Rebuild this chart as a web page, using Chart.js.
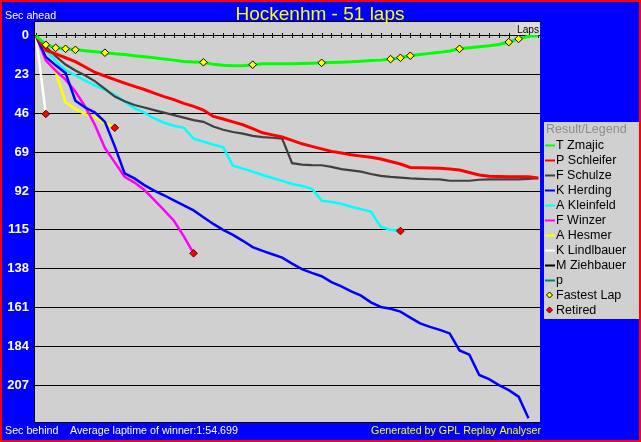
<!DOCTYPE html>
<html>
<head>
<meta charset="utf-8">
<title>Hockenhm - 51 laps</title>
<script src="https://cdn.jsdelivr.net/npm/chart.js@4.4.1/dist/chart.umd.min.js"></script>
<style>
html,body{margin:0;padding:0;background:#0000ff;overflow:hidden;}
#wrap{width:641px;height:442px;}
</style>
</head>
<body>
<div id="wrap"><canvas id="chart" width="641" height="442"></canvas></div>
<script>
// ---- data (seconds behind the winner's average lap pace, per lap, lap 0 first) ----
const chartTitle = "Hockenhm - 51 laps";
const drivers = ["T Zmajic","P Schleifer","F Schulze","K Herding","A Kleinfeld","F Winzer","A Hesmer","K Lindlbauer","M Ziehbauer","p"];
const driverColors = ["#00ff00","#ff0000","#404040","#0000ff","#00ffff","#ff00ff","#ffff00","#ffffff","#000000","#008080"];
const driverWidths = [3,3,2.2,2.5,2.5,2.5,2.5,2.5,2.5,2.5];

const zmajic = [0,5.3,7.1,7.7,8.3,8.9,9.5,10,10.6,11, 11.8,12.4,13,13.8,14.4,15.2,15.5,15.7,16.9,17.5, 17.7,17.7,17.1,16.6,16.6,16.6,16.6,16.4,16.2,16, 15.8,15.6,15.4,15,14.6,14.4,13.8,13,11.8,11, 10.4,9.8,9,7.7,7.1,6.5,5.9,5.1,3.7,1.8, 0.3,0];
const schleifer = [0,8.5,10.7,13,15.3,18.5,21.7,23.8,26,28, 30,31.8,34,36,37.8,40,41.8,44,47.8,49.3, 51,52.7,55,57.5,58.7,60,62,64,65.5,67, 68.5,69.5,70.5,71.3,72,73,74.5,76,78,78.2, 78.3,78.5,79,79.5,81,82.5,83.2,83.4,83.5,83.5, 83.6,84.2];
const schulze = [0,6.5,12,17,20.5,23.5,27,31.5,36,38.8, 41,42.5,44,45.5,47,48.5,50,51,53.8,55.7, 57,58,59.3,60,60.4,61,75.5,76.3,76.6,76.7, 77.7,79,79.8,80.5,81.9,83,83.6,84,84.5,84.8, 85,85.1,85.9,85.9,85.9,85.3,85.1,85.1,85.1,85.1, 84.8,84.3];
const herding = [0,12.5,17.5,22,38.5,42.5,45.5,51,65.5,81.5, 84.5,88.5,91.7,94.5,97.5,100.5,103.5,107.5,111.5,115, 118,121.5,125.2,127.5,129.5,131.5,135,138.3,140.5,142.5, 146,148.5,151.5,154,158,160.7,161.8,163.5,167,170.4, 172.5,174.3,176.4,186.5,189,201,203.5,207,210,213.9, 226.7];
const kleinfeld = [0,8.5,15,20.5,23.5,26.5,29.5,32,35,39, 43,45.5,49,51.5,53.3,54.5,61,62.7,64.5,66, 77,78.7,80.5,82.5,84.3,86,87.8,89,90.5,97.7, 98.5,99.5,101.3,102.7,104.2,113.2,115,115.7];
const winzer = [0,14.5,20.6,26,33,42,53,66.5,75,83.5,87,91.4,97.3,103.3,109.6,118.7,128.9];
const hesmer = [0,11.8,21.3,39.4,43.4,46.4,48.7,51.5,54.5];
const lindlbauer = [0,46.3];
const ziehbauer = [];
const pDriver = [];
const seriesList = [zmajic, schleifer, schulze, herding, kleinfeld, winzer, hesmer, lindlbauer, ziehbauer, pDriver];

const fastestLaps = [1,2,3,4,7,17,22,29,36,37,38,43,48,49];   // laps where the leader set fastest laps
const retiredSeries = [lindlbauer, hesmer, winzer, kleinfeld]; // these end with a retirement
const yTickValues = [0,23,46,69,92,115,138,161,184,207];
const totalLaps = 51;
const subtitleLeft = "Average laptime of winner:1:54.699";
const creditText = "Generated by GPL Replay Analyser";

// ---- datasets ----
const toPoints = arr => arr.map((v, i) => ({x: i, y: v}));
const lineSets = drivers.map((name, i) => ({
  type: 'line',
  label: name,
  data: toPoints(seriesList[i]),
  borderColor: driverColors[i],
  backgroundColor: driverColors[i],
  borderWidth: driverWidths[i],
  pointRadius: 0,
  tension: 0,
  fill: false,
  order: 1
}));
const fastestSet = {
  type: 'scatter', label: 'Fastest Lap',
  data: fastestLaps.map(l => ({x: l, y: zmajic[l]})),
  pointStyle: 'rectRot', pointRadius: 3.8, borderWidth: 1,
  backgroundColor: '#ffff00', borderColor: '#000000', order: -1
};
const retiredSet = {
  type: 'scatter', label: 'Retired',
  data: retiredSeries.map(s => ({x: s.length - 1, y: s[s.length - 1]})),
  pointStyle: 'rectRot', pointRadius: 3.8, borderWidth: 1,
  backgroundColor: '#ff0000', borderColor: '#500000', order: -1
};

const FONT = '"Liberation Sans", Arial, sans-serif';

const framePlugin = {
  id: 'frame',
  beforeDraw(chart) {
    const {ctx, chartArea: a} = chart;
    ctx.save();
    ctx.fillStyle = '#ff0000';
    ctx.fillRect(0, 0, chart.width, chart.height);
    ctx.fillStyle = '#0000ff';
    ctx.fillRect(2, 2, chart.width - 4, chart.height - 4);
    ctx.fillStyle = '#d0d0d0';
    ctx.fillRect(a.left, a.top, a.right - a.left, a.bottom - a.top);
    ctx.restore();
  },
  beforeDatasetsDraw(chart) {
    const {ctx, chartArea: a} = chart;
    const xs = chart.scales.x, ys = chart.scales.y;
    const y0 = Math.round(ys.getPixelForValue(0));
    ctx.save();
    ctx.strokeStyle = '#000000';
    ctx.lineWidth = 1;
    ctx.beginPath();
    for (let lap = 0; lap <= totalLaps; lap++) {
      const px = Math.round(xs.getPixelForValue(lap)) + 0.5;
      ctx.moveTo(px, y0 - 3);
      ctx.lineTo(px, y0 + 2);
    }
    ctx.stroke();
    // plot frame
    ctx.beginPath();
    ctx.moveTo(a.right, a.top - 0.5);
    ctx.lineTo(a.left - 0.5, a.top - 0.5);
    ctx.lineTo(a.left - 0.5, a.bottom + 0.5);
    ctx.lineTo(a.right, a.bottom + 0.5);
    ctx.stroke();
    ctx.restore();
  },
  afterDraw(chart) {
    const {ctx, chartArea: a} = chart;
    ctx.save();
    // Laps box
    ctx.fillStyle = '#dcdcdc';
    ctx.fillRect(a.right - 24, a.top, 24, 13);
    ctx.fillStyle = '#000000';
    ctx.font = '10.2px ' + FONT;
    ctx.textAlign = 'left';
    ctx.textBaseline = 'alphabetic';
    ctx.fillText('Laps', a.right - 23, a.top + 10.5);
    // title
    ctx.fillStyle = '#ffff00';
    ctx.font = '19px ' + FONT;
    ctx.textAlign = 'center';
    ctx.fillText(chartTitle, 320, 20);
    // axis captions
    ctx.font = '10.7px ' + FONT;
    ctx.textAlign = 'left';
    ctx.fillStyle = '#ffffff';
    ctx.fillText('Sec ahead', 5, 19);
    ctx.fillText('Sec behind', 5, 434);
    ctx.fillText(subtitleLeft, 70, 434);
    ctx.fillStyle = '#ffff00';
    ctx.textAlign = 'right';
    ctx.fillText(creditText, 541, 434);
    // legend
    const lx = 544, ly = 122, lw = 95, lh = 197;
    ctx.fillStyle = '#d0d0d0';
    ctx.fillRect(lx, ly, lw, lh);
    ctx.font = '12.5px ' + FONT;
    ctx.textAlign = 'left';
    ctx.textBaseline = 'middle';
    ctx.fillStyle = '#8c8c8c';
    ctx.fillText('Result/Legend', 546, 130);
    const step = 15;
    let y = 145;
    drivers.forEach((name, i) => {
      ctx.strokeStyle = driverColors[i];
      ctx.lineWidth = 2;
      ctx.beginPath();
      ctx.moveTo(545, y + 0.5);
      ctx.lineTo(555, y + 0.5);
      ctx.stroke();
      ctx.fillStyle = '#000000';
      ctx.fillText(name, 556, y + 1);
      y += step;
    });
    [[fastestSet.label, fastestSet.backgroundColor, fastestSet.borderColor],
     [retiredSet.label, retiredSet.backgroundColor, retiredSet.borderColor]].forEach(([label, fill, stroke]) => {
      ctx.beginPath();
      ctx.moveTo(549.5, y - 3); ctx.lineTo(552.5, y); ctx.lineTo(549.5, y + 3); ctx.lineTo(546.5, y);
      ctx.closePath();
      ctx.fillStyle = fill; ctx.fill();
      ctx.strokeStyle = stroke; ctx.lineWidth = 1; ctx.stroke();
      ctx.fillStyle = '#000000';
      ctx.fillText(label, 556, y + 1);
      y += step;
    });
    ctx.restore();
  }
};

new Chart(document.getElementById('chart'), {
  data: { datasets: [fastestSet, retiredSet, ...lineSets] },
  options: {
    responsive: false,
    animation: false,
    devicePixelRatio: 1,
    layout: { padding: { left: 4, top: 22, right: 101, bottom: 20 } },
    plugins: { legend: { display: false }, title: { display: false }, tooltip: { enabled: false } },
    events: [],
    scales: {
      x: { type: 'linear', display: false, min: -0.1, max: 51.17 },
      y: {
        type: 'linear', reverse: true, min: -8.2, max: 228.9,
        afterBuildTicks: s => { s.ticks = yTickValues.map(v => ({value: v})); },
        afterFit: s => { s.width = 31; },
        grid: { color: '#000000', lineWidth: 1, drawTicks: true, tickLength: 4, tickColor: '#000000', drawOnChartArea: true },
        border: { display: false },
        ticks: { color: '#ffffff', autoSkip: false, padding: 2, crossAlign: 'near',
                 font: { family: FONT, size: 13, weight: 'bold' } }
      }
    }
  },
  plugins: [framePlugin]
});
</script>
</body>
</html>
